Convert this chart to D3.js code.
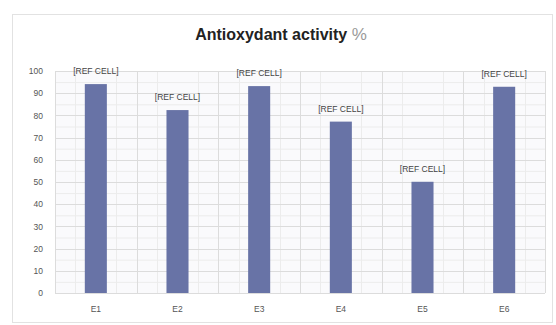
<!DOCTYPE html>
<html>
<head>
<meta charset="utf-8">
<script src="https://cdn.jsdelivr.net/npm/d3@7"></script>
<style>
  body { margin: 0; background: #fff; }
  svg { display: block; font-family: "Liberation Sans", Arial, sans-serif; }
</style>
</head>
<body>
<svg id="chart" width="556" height="325"></svg>
<script>
// Samples and their antioxidant activity (%)
const categories = ["E1", "E2", "E3", "E4", "E5", "E6"];
const activity = [94.1, 82.4, 93.2, 77.2, 50.1, 92.9];
const barLabels = ["[REF CELL]", "[REF CELL]", "[REF CELL]", "[REF CELL]", "[REF CELL]", "[REF CELL]"];
const yTicks = [0, 10, 20, 30, 40, 50, 60, 70, 80, 90, 100];

const svg = d3.select("#chart");
const plot = { left: 55, right: 545, top: 71, bottom: 293 };

// outer chart frame
svg.append("rect")
  .attr("x", 12.5).attr("y", 14.5)
  .attr("width", 540).attr("height", 308)
  .attr("fill", "#fff").attr("stroke", "#e2e2e2");

// title
const title = svg.append("text")
  .attr("x", 281).attr("y", 40)
  .attr("text-anchor", "middle")
  .attr("font-size", 16).attr("font-weight", "bold").attr("fill", "#222");
title.append("tspan").text("Antioxydant activity ");
title.append("tspan").attr("font-weight", "normal").attr("fill", "#9a9a9a").attr("font-size", 17).text("%");

const x = d3.scaleBand().domain(categories).range([plot.left, plot.right]).paddingInner(0.73).paddingOuter(0.365);
const y = d3.scaleLinear().domain([0, 100]).range([plot.bottom, plot.top]);

const g = svg.append("g");

// plot background
g.append("rect")
  .attr("x", plot.left).attr("y", plot.top)
  .attr("width", plot.right - plot.left).attr("height", plot.bottom - plot.top)
  .attr("fill", "#fafafc");

// minor horizontal grid (every 5)
g.selectAll(".hminor").data(d3.range(5, 100, 10)).join("line")
  .attr("x1", plot.left).attr("x2", plot.right)
  .attr("y1", d => y(d) + 0.5).attr("y2", d => y(d) + 0.5)
  .attr("stroke", "#ececec");

// minor vertical grid (quarter bands)
const step = (plot.right - plot.left) / categories.length;
const vMinor = [];
categories.forEach((c, i) => { [0.25, 0.75].forEach(f => vMinor.push(plot.left + step * (i + f))); });
g.selectAll(".vminor").data(vMinor).join("line")
  .attr("x1", d => Math.round(d) + 0.5).attr("x2", d => Math.round(d) + 0.5)
  .attr("y1", plot.top).attr("y2", plot.bottom)
  .attr("stroke", "#ececec");

// major horizontal grid
g.selectAll(".hmajor").data(yTicks).join("line")
  .attr("x1", plot.left).attr("x2", plot.right)
  .attr("y1", d => Math.round(y(d)) + 0.5).attr("y2", d => Math.round(y(d)) + 0.5)
  .attr("stroke", "#dcdcdc");

// major vertical grid at category boundaries
g.selectAll(".vmajor").data(d3.range(0, categories.length + 1)).join("line")
  .attr("x1", i => Math.round(plot.left + step * i) + 0.5).attr("x2", i => Math.round(plot.left + step * i) + 0.5)
  .attr("y1", plot.top).attr("y2", plot.bottom)
  .attr("stroke", "#dcdcdc");

// bars
g.selectAll(".bar").data(activity).join("rect")
  .attr("x", (d, i) => x(categories[i]))
  .attr("y", d => y(d))
  .attr("width", x.bandwidth())
  .attr("height", d => y(0) - y(d))
  .attr("fill", "#6873a6");

// bar labels
g.selectAll(".lbl").data(activity).join("text")
  .attr("x", (d, i) => x(categories[i]) + x.bandwidth() / 2)
  .attr("y", d => y(d) - 10)
  .attr("text-anchor", "middle")
  .attr("font-size", 8.5).attr("fill", "#444")
  .text((d, i) => barLabels[i]);

// y axis
const yAxis = d3.axisLeft(y).tickValues(yTicks).tickSize(0).tickPadding(12);
svg.append("g").attr("transform", `translate(${plot.left},0)`).call(yAxis)
  .call(a => a.select(".domain").remove())
  .call(a => a.selectAll("text").attr("font-size", 8.5).attr("fill", "#555").attr("font-family", "Liberation Sans, Arial, sans-serif"));

// x axis
const xAxis = d3.axisBottom(x).tickSize(0).tickPadding(13);
svg.append("g").attr("transform", `translate(0,${plot.bottom})`).call(xAxis)
  .call(a => a.select(".domain").remove())
  .call(a => a.selectAll("text").attr("font-size", 8.5).attr("fill", "#555").attr("font-family", "Liberation Sans, Arial, sans-serif"));
</script>
</body>
</html>
